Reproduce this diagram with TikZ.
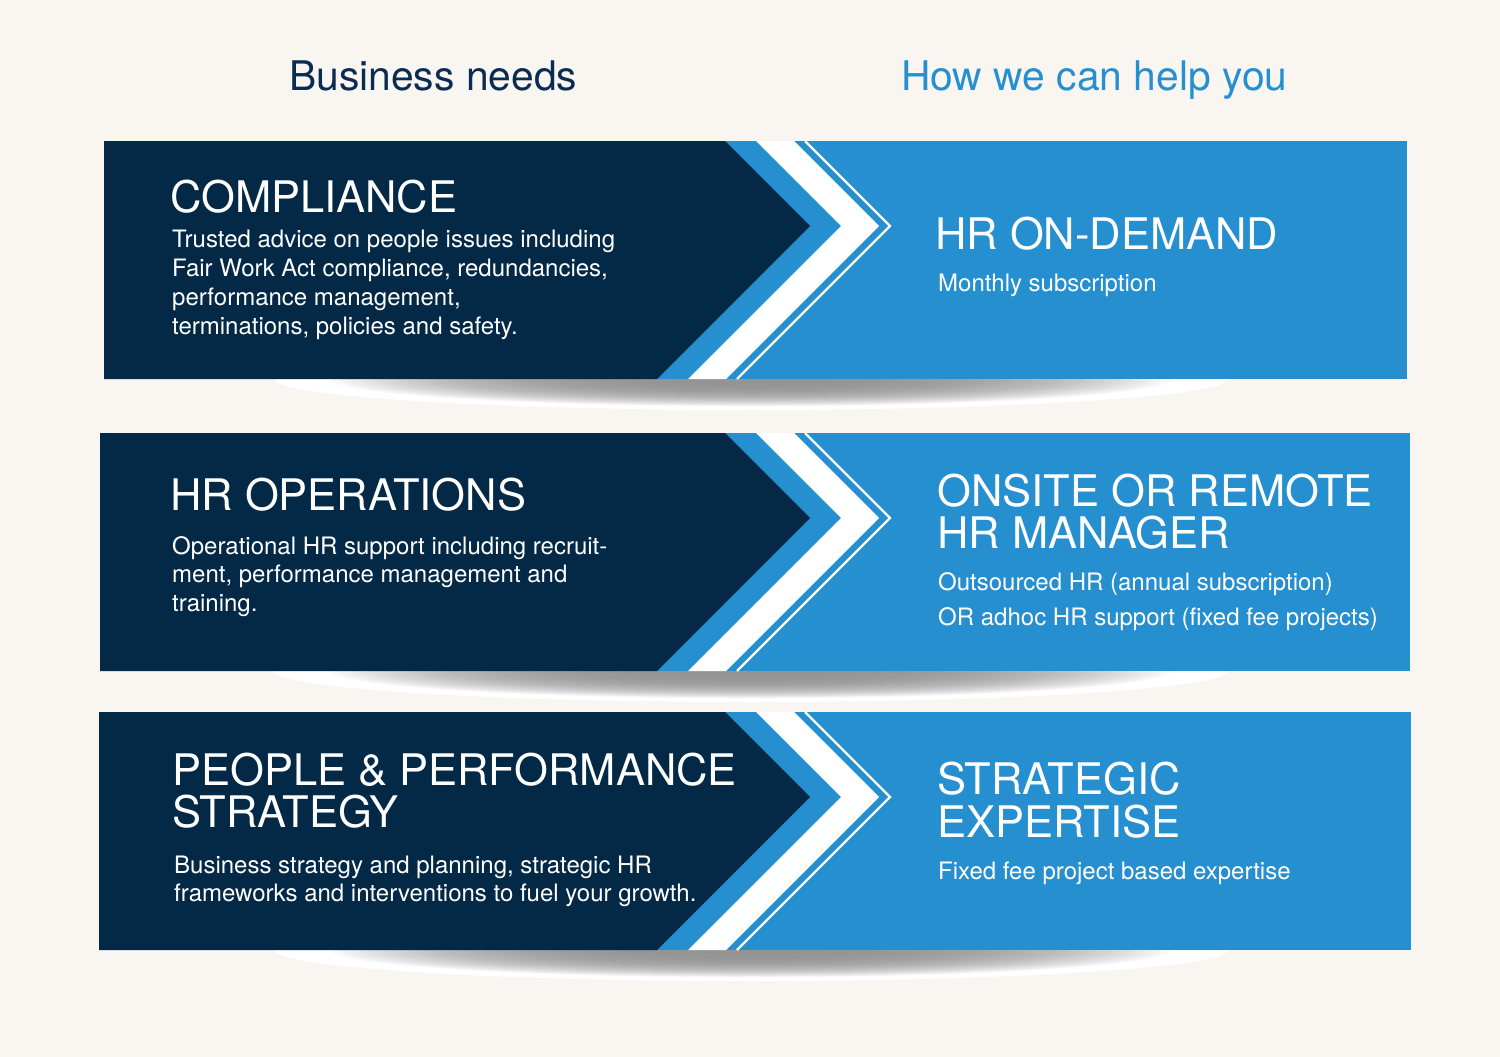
\documentclass[tikz,border=0pt]{standalone}
\usepackage{fontspec}
\setmainfont{TeX Gyre Heros}
\usepackage{tikz}

\definecolor{navy}{RGB}{3,41,70}
\definecolor{skyblue}{RGB}{38,143,208}
\definecolor{paper}{RGB}{249,246,241}
\definecolor{headnavy}{RGB}{10,44,82}

\begin{document}
\begin{tikzpicture}[x=1pt,y=-1pt,
  head/.style={anchor=base west,inner sep=0pt,font=\fontsize{40.8}{44}\selectfont},
  bigtitle/.style={anchor=base west,inner sep=0pt,text=white,font=\fontsize{43.5}{44}\selectfont},
  bodytext/.style={anchor=base west,inner sep=0pt,text=white,font=\fontsize{24}{29}\selectfont}]
\useasboundingbox (0,0) rectangle (1500,1057);
\fill[paper] (0,0) rectangle (1500,1057);

% headings
\node[head,text=headnavy] (needs) at (289,90) {Business needs};
\node[head,text=skyblue] (help) at (901,90) {How we can help you};

% bands with chevrons
\foreach \xl/\xr/\t in {104/1407/141, 100/1410/433, 99/1411/712} {
  % soft shadow under the band
  \fill[white] (751,\t+238) ellipse [x radius=477, y radius=31];
  \foreach \s [evaluate=\s as \pct using {42*(1-(\s/0.9)^3)}] in {0.9,0.88,...,0.02}
    \fill[black!\pct] (751,\t+238) ellipse [x radius=477*\s, y radius=31*\s];
  \fill[skyblue] (\xl,\t) rectangle (\xr,\t+238);
  \fill[white] (756,\t) -- (841,\t+85) -- (688,\t+238) -- (726,\t+238) -- (879,\t+85) -- (794,\t) -- cycle;
  \fill[navy] (\xl,\t) -- (725,\t) -- (810,\t+85) -- (657,\t+238) -- (\xl,\t+238) -- cycle;
  \draw[white,line width=2.2pt,miter limit=10] (805,\t) -- (890,\t+85) -- (737,\t+238);
}

% compliance
\node[bigtitle] (compliance) at (170,212) {COMPLIANCE};
\node[bodytext] (comp1) at (172,247) {Trusted advice on people issues including};
\node[bodytext] (comp2) at (172,276) {Fair Work Act compliance, redundancies,};
\node[bodytext] (comp3) at (172,305) {performance management,};
\node[bodytext] (comp4) at (172,334) {terminations, policies and safety.};
\node[bigtitle] (ondemand) at (935,249) {HR ON-DEMAND};
\node[bodytext] (ondemandsub) at (938,291) {Monthly subscription};

% operations
\node[bigtitle] (operations) at (170,510) {HR OPERATIONS};
\node[bodytext] (ops1) at (172,554) {Operational HR support including recruit-};
\node[bodytext] (ops2) at (172,582) {ment, performance management and};
\node[bodytext] (ops3) at (172,611) {training.};
\node[bigtitle] (onsite) at (937,506) {ONSITE OR REMOTE};
\node[bigtitle] (manager) at (937,548) {HR MANAGER};
\node[bodytext] (outsourced) at (938,590) {Outsourced HR (annual subscription)};
\node[bodytext] (adhoc) at (938,625) {OR adhoc HR support (fixed fee projects)};

% strategy
\node[bigtitle] (people) at (172,785) {PEOPLE \& PERFORMANCE};
\node[bigtitle] (strategy) at (172,827) {STRATEGY};
\node[bodytext] (plan1) at (174,873) {Business strategy and planning, strategic HR};
\node[bodytext] (plan2) at (174,901) {frameworks and interventions to fuel your growth.};
\node[bigtitle] (strategic) at (937,794) {STRATEGIC};
\node[bigtitle] (expertise) at (937,837) {EXPERTISE};
\node[bodytext] (fixedfee) at (938,879) {Fixed fee project based expertise};
\end{tikzpicture}
\end{document}
